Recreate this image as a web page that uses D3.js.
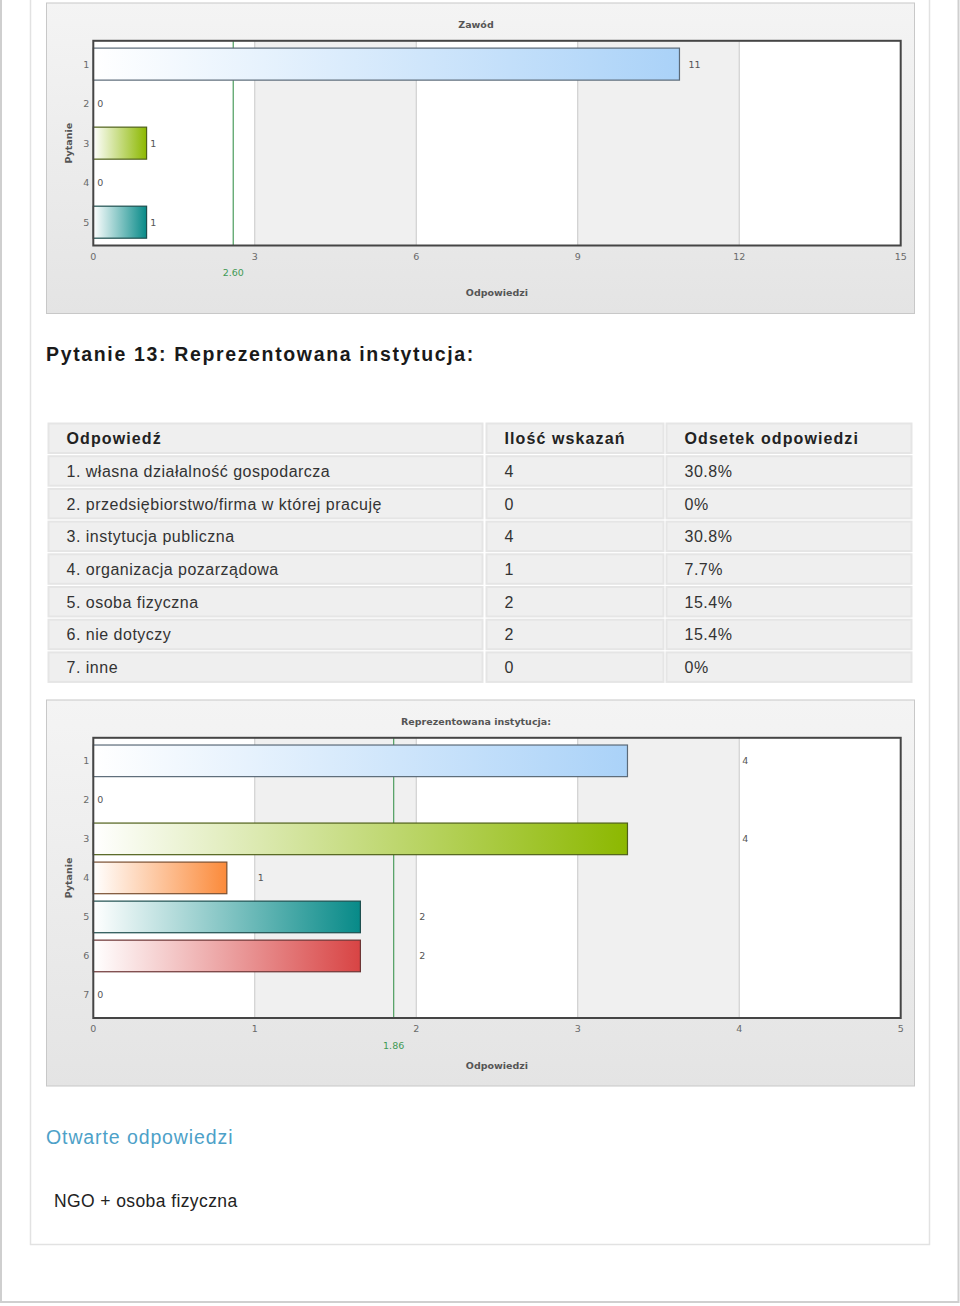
<!DOCTYPE html>
<html>
<head>
<meta charset="utf-8">
<script src="https://cdn.jsdelivr.net/npm/d3@7"></script>
<style>
  body { margin: 0; background: #fff; }
  svg { display: block; }
</style>
</head>
<body>
<div id="page"></div>
<script>
// chart 1: Zawód
var zawodCategories = [ "1", "2", "3", "4", "5" ];
var zawodValues = [ 11, 0, 1, 0, 1 ];
var zawodTicks = [ 0, 3, 6, 9, 12, 15 ];
var zawodAverage = 2.60;

// chart 2: Reprezentowana instytucja
var instCategories = [ "1", "2", "3", "4", "5", "6", "7" ];
var instValues = [ 4, 0, 4, 1, 2, 2, 0 ];
var instTicks = [ 0, 1, 2, 3, 4, 5 ];
var instAverage = 1.86;

// table
var tableHeader = [ "Odpowiedź", "Ilość wskazań", "Odsetek odpowiedzi" ];
var tableAnswers = [ "1. własna działalność gospodarcza", "2. przedsiębiorstwo/firma w której pracuję",
    "3. instytucja publiczna", "4. organizacja pozarządowa", "5. osoba fizyczna", "6. nie dotyczy", "7. inne" ];
var tableCounts = [ 4, 0, 4, 1, 2, 2, 0 ];
var tablePercents = [ "30.8%", "0%", "30.8%", "7.7%", "15.4%", "15.4%", "0%" ];

var openAnswers = [ "NGO + osoba fizyczna" ];

// bar colours by category index
var palette = [ "#aad2f8", "#f0c040", "#8cb800", "#fb8a3a", "#078a88", "#d84444", "#999999" ];

var W = 960, H = 1306;
var svg = d3.select( "#page" ).append( "svg" )
    .attr( "width", W )
    .attr( "height", H );
var defs = svg.append( "defs" );

// panel gradient
var pg = defs.append( "linearGradient" ).attr( "id", "panelGrad" )
    .attr( "x1", 0 ).attr( "y1", 0 ).attr( "x2", 0 ).attr( "y2", 1 );
pg.append( "stop" ).attr( "offset", "0%" ).attr( "stop-color", "#f4f4f4" );
pg.append( "stop" ).attr( "offset", "100%" ).attr( "stop-color", "#e4e4e4" );

palette.forEach( function( c, i ) {
    var g = defs.append( "linearGradient" ).attr( "id", "barGrad" + i )
        .attr( "x1", 0 ).attr( "y1", 0 ).attr( "x2", 1 ).attr( "y2", 0 );
    g.append( "stop" ).attr( "offset", "0%" ).attr( "stop-color", "#ffffff" );
    g.append( "stop" ).attr( "offset", "100%" ).attr( "stop-color", c );
});

// page frames
svg.append( "rect" )
    .attr( "x", 1 ).attr( "y", -10 ).attr( "width", 957.5 ).attr( "height", 1312 )
    .attr( "fill", "none" ).attr( "stroke", "#cfcfcf" ).attr( "stroke-width", 2 );
svg.append( "rect" )
    .attr( "x", 30.5 ).attr( "y", -10 ).attr( "width", 899 ).attr( "height", 1254.5 )
    .attr( "fill", "none" ).attr( "stroke", "#e2e2e2" ).attr( "stroke-width", 1.5 );

var chartFont = "DejaVu Sans, Verdana, sans-serif";
var chartSize = "9.5px";

function drawChart( cfg )
{
    var panel = { x: 46, y: cfg.top, w: 868, h: cfg.height };
    var margin = { top: 38.3, left: 47.3, right: 13.3, bottom: 67.5 };
    var left = panel.x + margin.left,
        right = panel.x + panel.w - margin.right,
        top = panel.y + margin.top,
        bottom = panel.y + panel.h - margin.bottom;

    var g = svg.append( "g" );

    g.append( "rect" )
        .attr( "x", panel.x + 0.5 ).attr( "y", panel.y + 0.5 )
        .attr( "width", panel.w ).attr( "height", panel.h )
        .attr( "fill", "url(#panelGrad)" )
        .attr( "stroke", "#c8c8c8" );

    var x = d3.scaleLinear().domain( [ 0, cfg.ticks[ cfg.ticks.length - 1 ] ] ).range( [ left, right ] );
    var y = d3.scaleBand().domain( cfg.categories ).range( [ top, bottom ] )
        .paddingInner( 0.19 ).paddingOuter( 0.185 );

    // alternating stripes
    g.selectAll( ".stripe" )
        .data( cfg.ticks.slice( 0, -1 ) )
        .enter().append( "rect" )
        .attr( "x", function( d ) { return x( d ); } )
        .attr( "y", top )
        .attr( "width", function( d, i ) { return x( cfg.ticks[ i + 1 ] ) - x( d ); } )
        .attr( "height", bottom - top )
        .attr( "fill", function( d, i ) { return i % 2 ? "#f0f0f0" : "#ffffff"; } );

    // grid lines
    g.selectAll( ".grid" )
        .data( cfg.ticks.slice( 1, -1 ) )
        .enter().append( "line" )
        .attr( "x1", function( d ) { return x( d ); } )
        .attr( "x2", function( d ) { return x( d ); } )
        .attr( "y1", top ).attr( "y2", bottom )
        .attr( "stroke", "#c9c9c9" );

    // average line
    g.append( "line" )
        .attr( "x1", x( cfg.average ) ).attr( "x2", x( cfg.average ) )
        .attr( "y1", top ).attr( "y2", bottom )
        .attr( "stroke", "#5aa46a" ).attr( "stroke-width", 1.3 );

    var data = cfg.categories.map( function( c, i ) { return { cat: c, v: cfg.values[ i ], i: i }; } );

    // bars (drawn slightly short, as in the original rendering)
    g.selectAll( ".bar" )
        .data( data.filter( function( d ) { return d.v > 0; } ) )
        .enter().append( "rect" )
        .attr( "x", x( 0 ) )
        .attr( "y", function( d ) { return y( d.cat ); } )
        .attr( "width", function( d ) { return ( x( d.v ) - x( 0 ) ) * cfg.grow; } )
        .attr( "height", y.bandwidth() )
        .attr( "fill", function( d ) { return "url(#barGrad" + d.i + ")"; } )
        .attr( "stroke", function( d ) { return d3.interpolateRgb( palette[ d.i ], "#2a2a2a" )( 0.62 ); } )
        .attr( "stroke-width", 1.2 );

    // value labels
    g.selectAll( ".val" )
        .data( data )
        .enter().append( "text" )
        .attr( "x", function( d ) { return x( d.v ) + ( d.v > 0 ? 3 : 4 ); } )
        .attr( "y", function( d ) { return y( d.cat ) + y.bandwidth() / 2 + 3.5; } )
        .style( "font-family", chartFont )
        .style( "font-size", chartSize )
        .style( "fill", "#555" )
        .text( function( d ) { return d.v; } );

    // plot border
    g.append( "rect" )
        .attr( "x", left ).attr( "y", top )
        .attr( "width", right - left ).attr( "height", bottom - top )
        .attr( "fill", "none" ).attr( "stroke", "#454545" ).attr( "stroke-width", 2 );

    // y axis labels
    g.selectAll( ".ylab" )
        .data( cfg.categories )
        .enter().append( "text" )
        .attr( "x", left - 4 )
        .attr( "y", function( d ) { return y( d ) + y.bandwidth() / 2 + 3.5; } )
        .attr( "text-anchor", "end" )
        .style( "font-family", chartFont )
        .style( "font-size", chartSize )
        .style( "fill", "#6a6a6a" )
        .text( function( d ) { return d; } );

    // x axis labels
    g.selectAll( ".xlab" )
        .data( cfg.ticks )
        .enter().append( "text" )
        .attr( "x", function( d ) { return x( d ); } )
        .attr( "y", bottom + 14 )
        .attr( "text-anchor", "middle" )
        .style( "font-family", chartFont )
        .style( "font-size", chartSize )
        .style( "fill", "#6a6a6a" )
        .text( function( d ) { return d; } );

    // average label
    g.append( "text" )
        .attr( "x", x( cfg.average ) )
        .attr( "y", bottom + 30.5 )
        .attr( "text-anchor", "middle" )
        .style( "font-family", chartFont )
        .style( "font-size", chartSize )
        .style( "fill", "#3f9a55" )
        .text( cfg.average.toFixed( 2 ) );

    // title
    g.append( "text" )
        .attr( "x", panel.x + panel.w / 2 - 4 )
        .attr( "y", panel.y + 25 )
        .attr( "text-anchor", "middle" )
        .style( "font-family", chartFont )
        .style( "font-size", chartSize )
        .style( "font-weight", "bold" )
        .style( "fill", "#555" )
        .text( cfg.title );

    // x axis title
    g.append( "text" )
        .attr( "x", ( left + right ) / 2 )
        .attr( "y", bottom + 50.5 )
        .attr( "text-anchor", "middle" )
        .style( "font-family", chartFont )
        .style( "font-size", chartSize )
        .style( "font-weight", "bold" )
        .style( "fill", "#555" )
        .text( "Odpowiedzi" );

    // y axis title
    g.append( "text" )
        .attr( "transform", "translate(" + ( panel.x + 25.5 ) + "," + ( ( top + bottom ) / 2 ) + ") rotate(-90)" )
        .attr( "text-anchor", "middle" )
        .style( "font-family", chartFont )
        .style( "font-size", chartSize )
        .style( "font-weight", "bold" )
        .style( "fill", "#555" )
        .text( "Pytanie" );
}

drawChart( { title: "Zawód", categories: zawodCategories, values: zawodValues, ticks: zawodTicks,
    average: zawodAverage, top: 2.5, height: 310.5, grow: 0.99 } );

// section heading
svg.append( "text" )
    .attr( "x", 46 ).attr( "y", 361 )
    .style( "font-family", "Liberation Sans, Arial, sans-serif" )
    .style( "font-size", "19.5px" )
    .style( "font-weight", "bold" )
    .style( "letter-spacing", "1.65px" )
    .style( "fill", "#1a1a1a" )
    .text( "Pytanie 13: Reprezentowana instytucja:" );

// table
var colX = [ 48.5, 486.5, 666.5 ],
    colW = [ 434, 177, 245 ],
    rowTop = 423.5, rowH = 29.5, rowStep = 32.7, padX = 18;

var rows = [ tableHeader ].concat( tableAnswers.map( function( a, i ) {
    return [ a, String( tableCounts[ i ] ), tablePercents[ i ] ];
}));

var tg = svg.append( "g" );
rows.forEach( function( r, ri ) {
    r.forEach( function( cell, ci ) {
        tg.append( "rect" )
            .attr( "x", colX[ ci ] ).attr( "y", rowTop + ri * rowStep )
            .attr( "width", colW[ ci ] ).attr( "height", rowH )
            .attr( "fill", "#efefef" )
            .attr( "stroke", "#e5e5e5" ).attr( "stroke-width", 2 );
        tg.append( "text" )
            .attr( "x", colX[ ci ] + padX )
            .attr( "y", rowTop + ri * rowStep + rowH / 2 + 6 )
            .style( "font-family", "Liberation Sans, Arial, sans-serif" )
            .style( "font-size", "16px" )
            .style( "font-weight", ri === 0 ? "bold" : "normal" )
            .style( "letter-spacing", ri === 0 ? "1.1px" : "0.5px" )
            .style( "fill", ri === 0 ? "#222" : "#333" )
            .text( cell );
    });
});

// open answers
svg.append( "text" )
    .attr( "x", 46 ).attr( "y", 1144 )
    .style( "font-family", "Liberation Sans, Arial, sans-serif" )
    .style( "font-size", "19.5px" )
    .style( "letter-spacing", "0.9px" )
    .style( "fill", "#4da1c8" )
    .text( "Otwarte odpowiedzi" );

svg.selectAll( ".open" )
    .data( openAnswers )
    .enter().append( "text" )
    .attr( "x", 54 )
    .attr( "y", function( d, i ) { return 1207 + i * 26; } )
    .style( "font-family", "Liberation Sans, Arial, sans-serif" )
    .style( "font-size", "17.5px" )
    .style( "letter-spacing", "0.4px" )
    .style( "fill", "#222" )
    .text( function( d ) { return d; } );

drawChart( { title: "Reprezentowana instytucja:", categories: instCategories, values: instValues, ticks: instTicks,
    average: instAverage, top: 699.5, height: 386, grow: 0.827 } );
</script>
</body>
</html>
